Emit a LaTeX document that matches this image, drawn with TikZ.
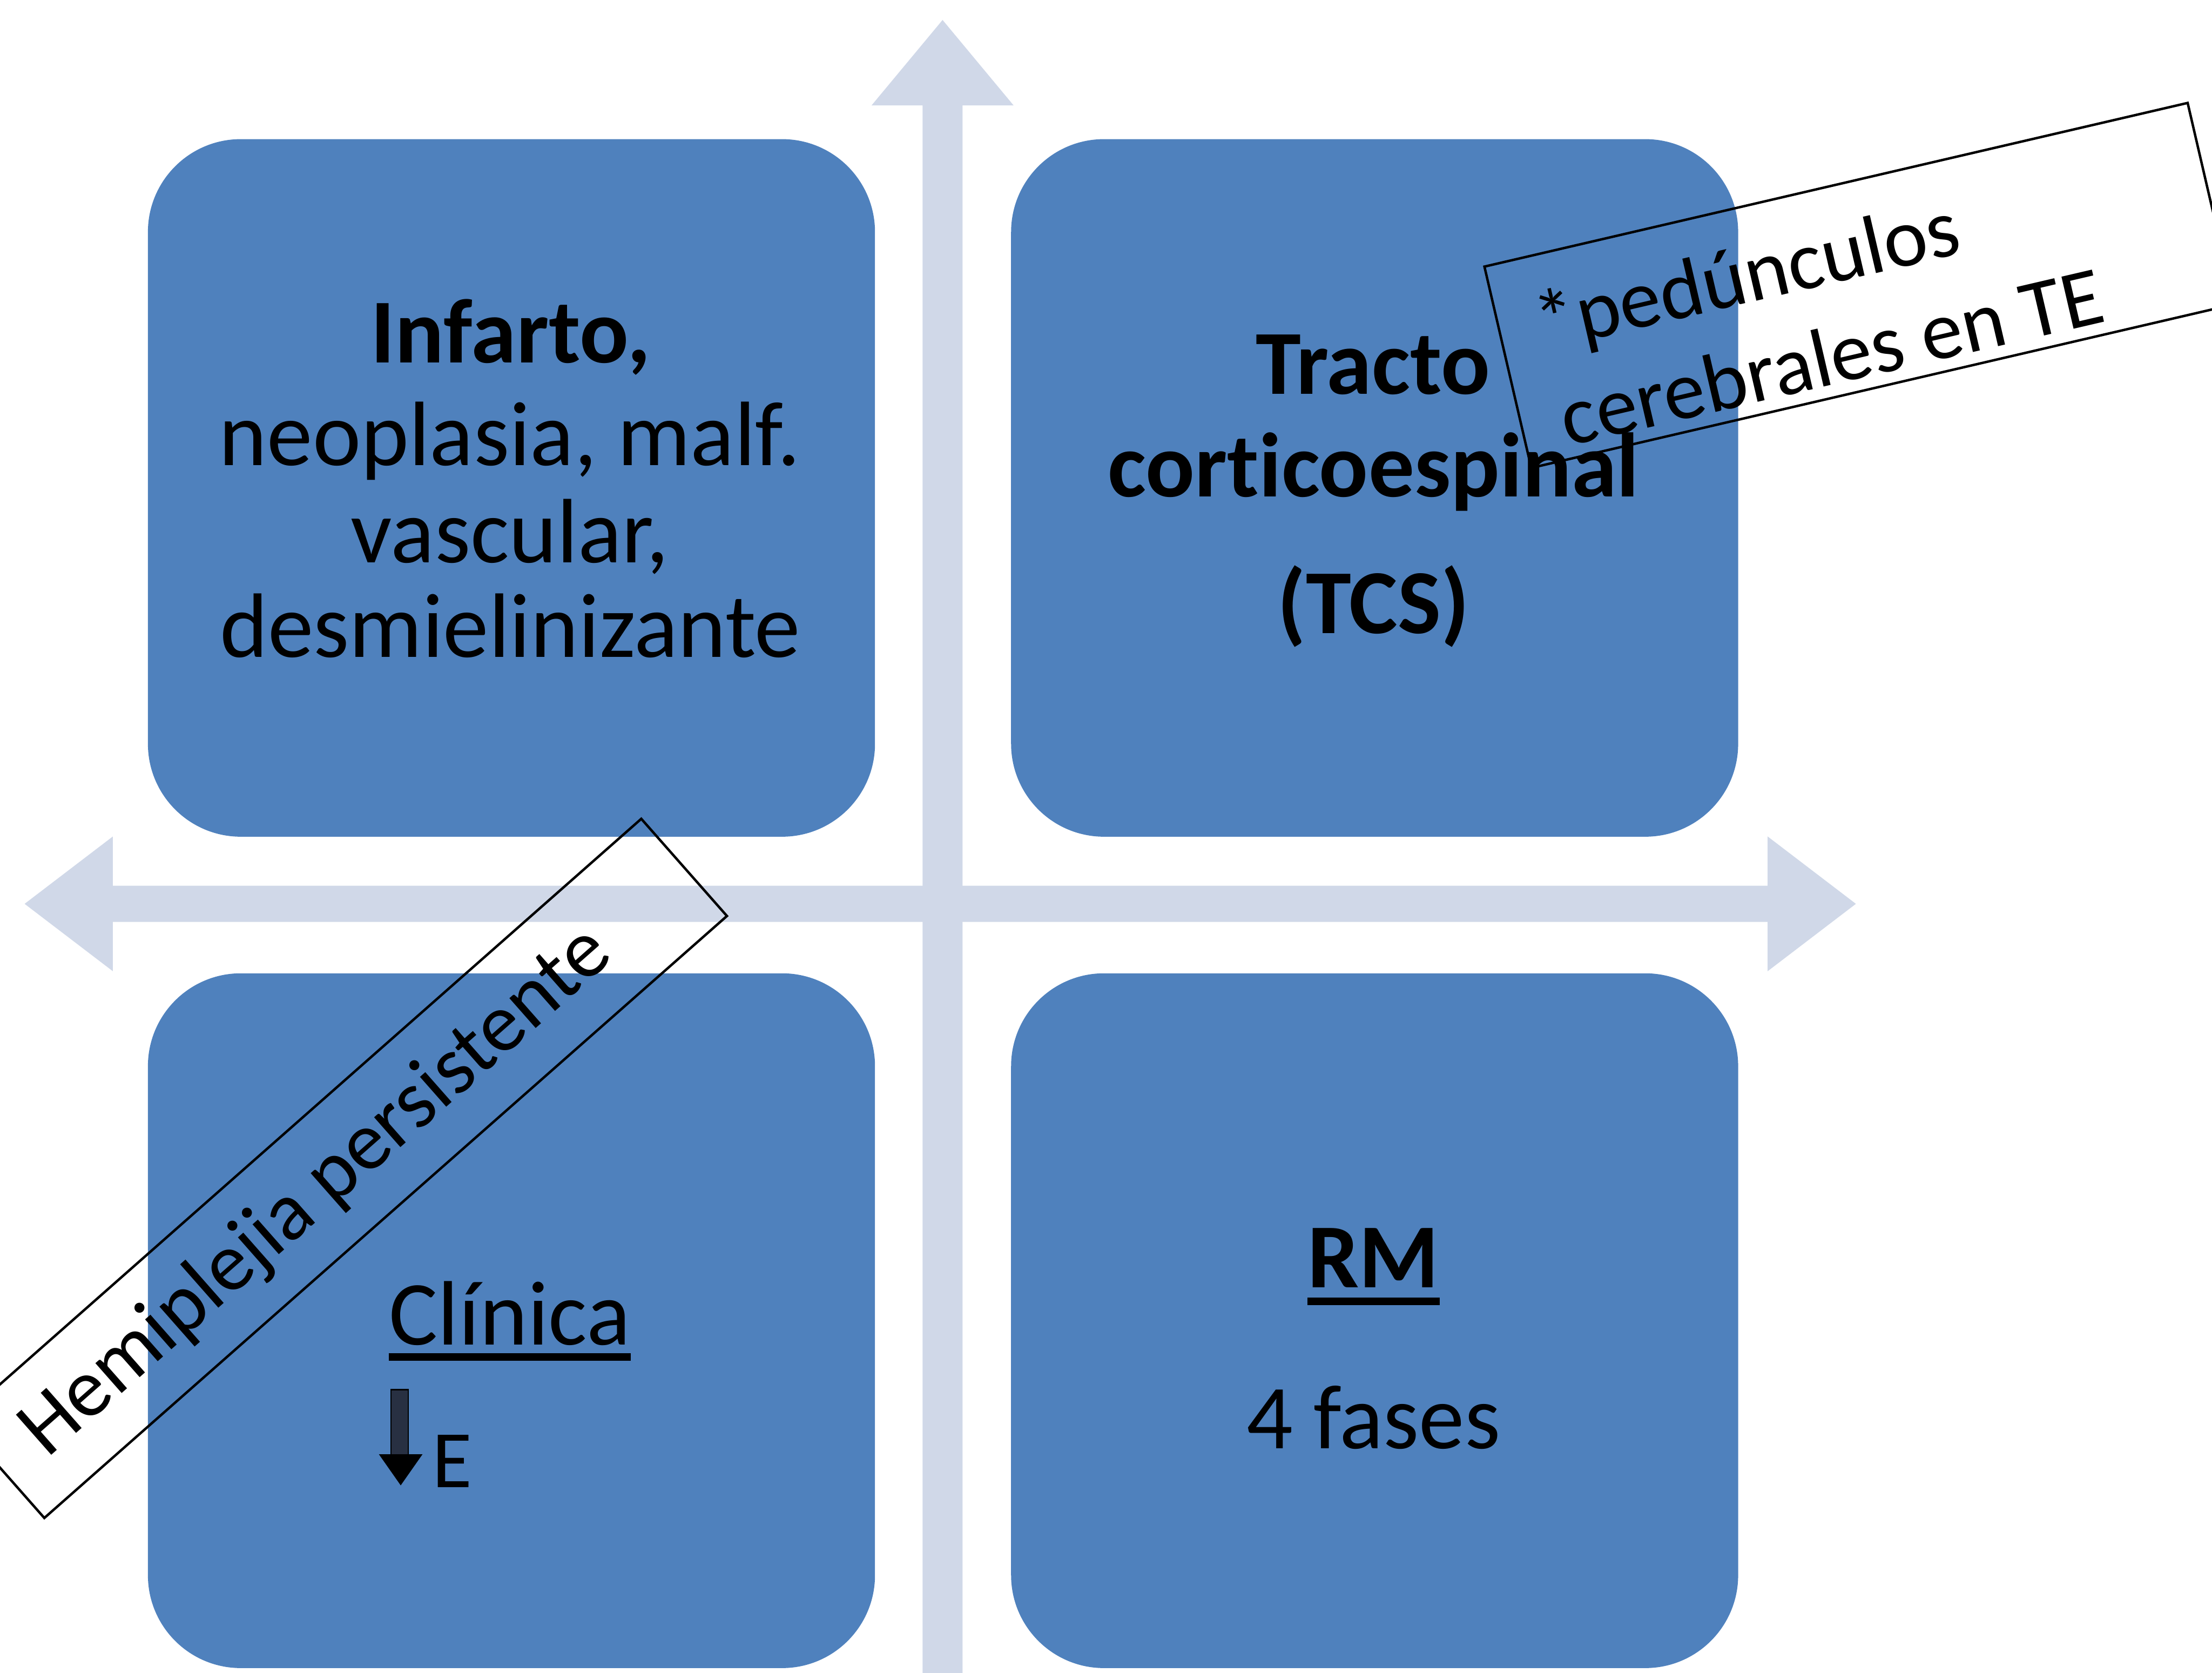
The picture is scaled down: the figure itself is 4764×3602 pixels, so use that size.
\documentclass[tikz,border=0pt]{standalone}
\usepackage{fontspec}
\setmainfont{Carlito}[Ligatures=NoCommon]
\definecolor{boxblue}{RGB}{79,129,189}
\definecolor{axisgray}{RGB}{208,216,232}
\definecolor{shaftfill}{RGB}{40,48,66}
\begin{document}
\begin{tikzpicture}[x=0.01cm,y=-0.01cm,
  quad/.style={draw=none, fill=boxblue, rounded corners=2cm, inner sep=0pt,
               minimum width=15.65cm},
  txt/.style={inner sep=0pt, anchor=base, text=black, font=\fontsize{56}{60}\selectfont},
  txtb/.style={txt, font=\fontsize{56}{60}\selectfont\bfseries},
  note/.style={inner sep=0pt, anchor=base west, text=black, transform shape,
               font=\fontsize{51}{60}\selectfont},
  notebox/.style={draw=black, line width=1.5pt},
  uline/.style={line width=0.16cm}]
\useasboundingbox (0,0) rectangle (4764,3602);
\clip (0,0) rectangle (4764,3602);

% crossing double-headed axes
\fill[axisgray] (2030,43) -- (2183,227) -- (2073,227) -- (2073,3667) -- (2183,3667)
  -- (2030,3851) -- (1877,3667) -- (1987,3667) -- (1987,227) -- (1877,227) -- cycle;
\fill[axisgray] (53,1946) -- (243,1801) -- (243,1907) -- (3807,1907) -- (3807,1801)
  -- (3997,1946) -- (3807,2091) -- (3807,1985) -- (243,1985) -- (243,2091) -- cycle;

% four quadrant boxes
\node[quad, minimum height=15.01cm] (qtl) at (1101.5,1050.5) {};
\node[quad, minimum height=15.01cm] (qtr) at (2960.5,1050.5) {};
\node[quad, minimum height=14.95cm] (qbl) at (1101.5,2843.5) {};
\node[quad, minimum height=14.95cm] (qbr) at (2960.5,2843.5) {};

% top left
\node[txtb] (infarto) at (1100,781) {Infarto,};
\node[txt] (neopl) at (1098,1002) {neoplasia, malf.};
\node[txt] (vasc) at (1098,1211) {vascular,};
\node[txt] (desm) at (1099,1415) {desmielinizante};

% top right
\node[txtb] (tracto) at (2957,848) {Tracto};
\node[txtb] (corti) at (2958,1070) {corticoespinal};
\node[txtb] (tcs) at (2958,1364) {(TCS)};

% bottom left
\node[txt] (clinica) at (1098,2895) {Clínica};
\draw[uline] ([yshift=-0.27cm]clinica.base west) -- ([yshift=-0.27cm]clinica.base east);
\filldraw[draw=black, line width=0.8pt, fill=shaftfill] (842,2992) rectangle (879,3135);
\fill[black] (816,3131) -- (910,3131) -- (863,3198) -- cycle;
\node[txt, anchor=base west, font=\fontsize{50}{60}\selectfont] (energ) at (930,3202) {E};

% bottom right
\node[txtb] (rm) at (2958,2772) {RM};
\draw[uline] ([yshift=-0.3cm]rm.base west) -- ([yshift=-0.3cm]rm.base east);
\node[txt] (fases) at (2958,3119) {4 fases};

% tilted note over the top right box
\begin{scope}[shift={(3197,574)}, rotate=13.1]
  \draw[notebox] (0,0) rectangle (1555,445);
  \node[note] (ped1) at (80,205) {*pedúnculos};
  \node[note] (ped2) at (86,418) {cerebrales en TE};
\end{scope}

% tilted note across the left axis
\begin{scope}[shift={(-89,3059)}, rotate=41.4]
  \draw[notebox] (0,0) rectangle (1960,279);
  \node[note] (hemi) at (88,188) {Hemiplejia persistente};
\end{scope}
\end{tikzpicture}
\end{document}
